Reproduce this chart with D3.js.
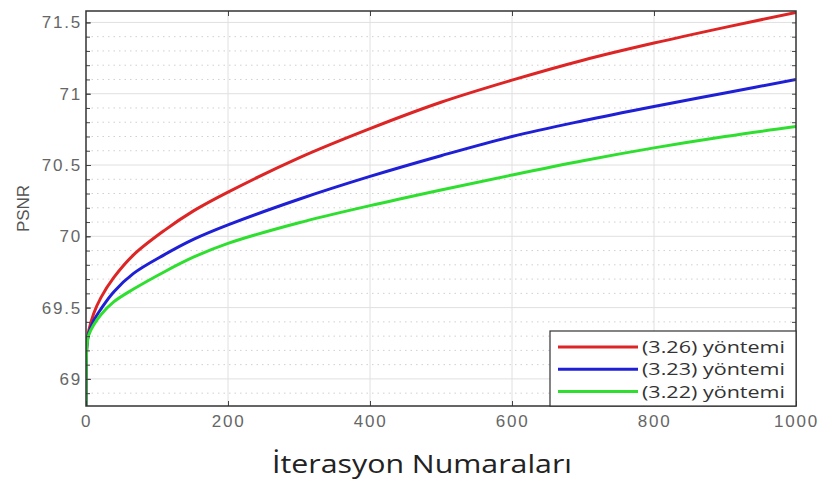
<!DOCTYPE html>
<html>
<head>
<meta charset="utf-8">
<script src="https://cdn.jsdelivr.net/npm/d3@7"></script>
<style>
  body { margin: 0; background: #fff; }
  .tick text { font-family: "Liberation Sans", Arial, sans-serif; fill: #666; }
</style>
</head>
<body>
<div id="chart"></div>
<script>
// values
var iterations = [0, 1, 2, 4, 11, 21, 39, 67, 110, 152, 200, 300, 400, 500, 600, 700, 800, 900, 1000];
var psnr326 = [68.70, 69.22, 69.28, 69.34, 69.46, 69.57, 69.71, 69.87, 70.04, 70.18, 70.31, 70.55, 70.755, 70.94, 71.095, 71.235, 71.355, 71.465, 71.57];
var psnr323 = [68.70, 69.22, 69.27, 69.32, 69.41, 69.49, 69.61, 69.74, 69.87, 69.98, 70.08, 70.26, 70.42, 70.565, 70.70, 70.81, 70.91, 71.005, 71.10];
var psnr322 = [68.70, 69.21, 69.26, 69.31, 69.38, 69.45, 69.54, 69.63, 69.75, 69.855, 69.95, 70.095, 70.215, 70.325, 70.43, 70.53, 70.62, 70.70, 70.77];
var seriesNames = ["(3.26) yöntemi", "(3.23) yöntemi", "(3.22) yöntemi"];
var seriesColors = ["#dd2525", "#1f1fd6", "#2fdf2f"];
var xTicks = [0, 200, 400, 600, 800, 1000];
var yTicks = [69, 69.5, 70, 70.5, 71, 71.5];

var W = 820, H = 483;
var pl = 86, pr = 796, pt = 11, pb = 406;

var svg = d3.select("#chart").append("svg")
  .attr("width", W).attr("height", H);

var x = d3.scaleLinear().domain([0, 1000]).range([pl, pr]);
var y = d3.scaleLinear().domain([68.81, 71.58]).range([pb, pt]);

var minorY = d3.range(68.9, 71.55, 0.1).map(function(d) { return Math.round(d * 10) / 10; });

// minor dotted grid
svg.append("g").selectAll("line")
  .data(minorY.filter(function(d) { return yTicks.indexOf(d) < 0; }))
  .enter().append("line")
  .attr("x1", pl).attr("x2", pr)
  .attr("y1", function(d) { return y(d); }).attr("y2", function(d) { return y(d); })
  .attr("stroke", "#d0d0d0").attr("stroke-dasharray", "1.5,4");

// major grid
svg.append("g").selectAll("line")
  .data(yTicks).enter().append("line")
  .attr("x1", pl).attr("x2", pr)
  .attr("y1", function(d) { return y(d); }).attr("y2", function(d) { return y(d); })
  .attr("stroke", "#e0e0e0");
svg.append("g").selectAll("line")
  .data(xTicks.slice(1, -1)).enter().append("line")
  .attr("y1", pt).attr("y2", pb)
  .attr("x1", function(d) { return x(d); }).attr("x2", function(d) { return x(d); })
  .attr("stroke", "#e0e0e0");

// curves
var data = [psnr326, psnr323, psnr322].map(function(vals, i) {
  return { name: seriesNames[i], color: seriesColors[i],
    values: iterations.map(function(it, j) { return { it: it, v: vals[j] }; }) };
});

svg.append("clipPath").attr("id", "clip")
  .append("rect").attr("x", pl).attr("y", pt - 2)
  .attr("width", pr - pl).attr("height", pb - pt + 2);

var line = d3.line()
  .x(function(d) { return x(d.it); })
  .y(function(d) { return y(d.v); })
  .curve(d3.curveCatmullRom.alpha(0.5));

svg.append("g").attr("clip-path", "url(#clip)")
  .selectAll("path").data(data).enter().append("path")
  .attr("d", function(d) { return line(d.values); })
  .attr("fill", "none")
  .attr("stroke", function(d) { return d.color; })
  .attr("stroke-width", 3);

// axes (ticks inward)
svg.append("g").attr("transform", "translate(0," + pb + ")")
  .call(d3.axisBottom(x).tickValues(xTicks).tickSize(-5).tickPadding(9).tickFormat(d3.format("d")))
  .call(function(g) { g.select(".domain").remove(); })
  .selectAll("text").attr("font-size", 17).attr("letter-spacing", 1.8);

svg.append("g").attr("transform", "translate(" + pl + ",0)")
  .call(d3.axisLeft(y).tickValues(yTicks).tickSize(-5).tickPadding(4)
    .tickFormat(function(d) { return String(d); }))
  .call(function(g) { g.select(".domain").remove(); })
  .selectAll("text").attr("font-size", 17).attr("letter-spacing", 1.8);

// minor ticks on left and right
svg.append("g").attr("transform", "translate(" + pl + ",0)")
  .call(d3.axisLeft(y).tickValues(minorY).tickSize(-4).tickFormat(""))
  .call(function(g) { g.select(".domain").remove(); });
svg.append("g").attr("transform", "translate(" + pr + ",0)")
  .call(d3.axisRight(y).tickValues(minorY).tickSize(-4).tickFormat(""))
  .call(function(g) { g.select(".domain").remove(); });
svg.append("g").attr("transform", "translate(0," + pt + ")")
  .call(d3.axisTop(x).tickValues(xTicks.slice(1, -1)).tickSize(-5).tickFormat(""))
  .call(function(g) { g.select(".domain").remove(); });

svg.selectAll(".tick line").attr("stroke", "#444");

// frame
svg.append("rect")
  .attr("x", pl).attr("y", pt)
  .attr("width", pr - pl).attr("height", pb - pt)
  .attr("fill", "none").attr("stroke", "#333").attr("stroke-width", 1.5);

// legend
var lg = svg.append("g").attr("transform", "translate(550,331)");
lg.append("rect").attr("width", 246).attr("height", 75)
  .attr("fill", "#fff").attr("stroke", "#333").attr("stroke-width", 1.2);
var rows = lg.selectAll("g.row").data(data).enter().append("g")
  .attr("transform", function(d, i) { return "translate(0," + (16 + i * 22.3) + ")"; });
rows.append("line").attr("x1", 8).attr("x2", 88)
  .attr("stroke", function(d) { return d.color; }).attr("stroke-width", 3);
rows.append("text").attr("x", 92).attr("y", 6)
  .attr("font-family", "'Open Sans', 'Noto Sans', sans-serif")
  .attr("font-size", 16).attr("fill", "#333")
  .attr("textLength", 143).attr("lengthAdjust", "spacingAndGlyphs")
  .text(function(d) { return d.name; });

// axis titles
svg.append("text")
  .attr("transform", "translate(29," + (pt + pb) / 2 + ")rotate(-90)")
  .attr("text-anchor", "middle")
  .attr("font-family", "'Liberation Sans', Arial, sans-serif")
  .attr("font-size", 17).attr("fill", "#555")
  .text("PSNR");

svg.append("text")
  .attr("x", 272).attr("y", 473)
  .attr("font-family", "'Open Sans', 'Noto Sans', sans-serif")
  .attr("font-size", 25).attr("fill", "#222")
  .attr("textLength", 300).attr("lengthAdjust", "spacingAndGlyphs")
  .text("İterasyon Numaraları");
</script>
</body>
</html>
